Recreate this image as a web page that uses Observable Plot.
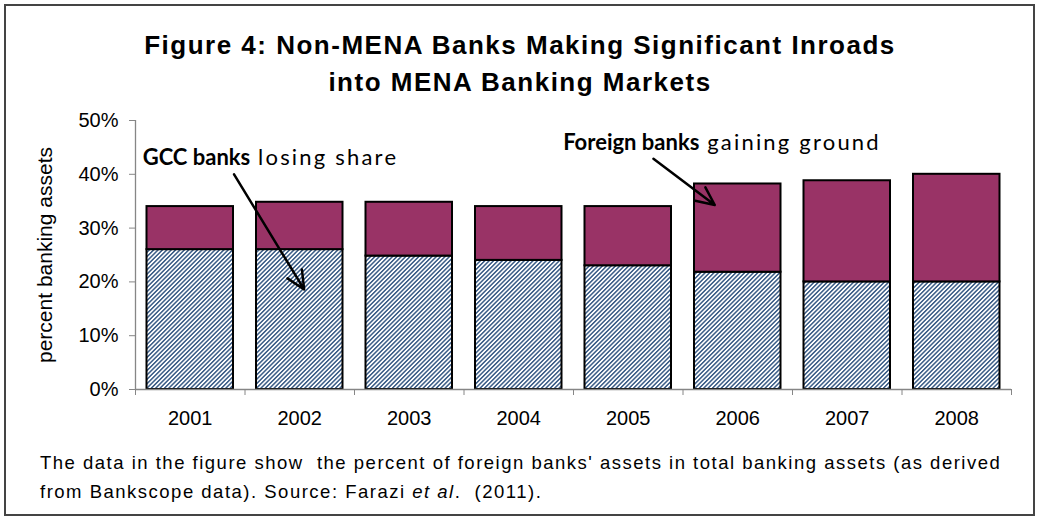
<!DOCTYPE html>
<html>
<head>
<meta charset="utf-8">
<script src="https://cdn.jsdelivr.net/npm/d3@7"></script>
<script src="https://cdn.jsdelivr.net/npm/@observablehq/plot@0.6"></script>
<style>
  html, body { margin: 0; padding: 0; background: #fff; }
  #frame { position: relative; width: 1040px; height: 520px; overflow: hidden; font-family: "Liberation Sans", Arial, sans-serif; }
  #border { position: absolute; left: 4px; top: 4px; width: 1027px; height: 508px; border: 2px solid #444; }
  #title { position: absolute; left: 0; top: 27px; width: 1040px; text-align: center; font-size: 26px; font-weight: bold; line-height: 37px; letter-spacing: 1.5px; color: #000; }
  #chart { position: absolute; left: 0; top: 100px; }
  #caption { position: absolute; left: 40px; top: 448px; font-size: 18.5px; line-height: 29px; letter-spacing: 1.5px; color: #000; white-space: nowrap; }
</style>
</head>
<body>
<div id="frame">
  <div id="border"></div>
  <div id="title">Figure 4: Non-MENA Banks Making Significant Inroads<br>into MENA Banking Markets</div>
  <div id="chart"></div>
  <div id="caption">The data in the figure show&nbsp; the percent of foreign banks' assets in total banking assets (as derived<br>from Bankscope data). Source: Farazi <i>et al</i>.&nbsp; (2011).</div>
</div>
<script>
// ---- data (percent of total banking assets) ----
const years = [2001, 2002, 2003, 2004, 2005, 2006, 2007, 2008];
const gccShare = [26, 26, 24.8, 24, 23, 21.8, 20, 20];
const foreignShare = [8, 8.8, 10, 10, 11, 16.4, 18.8, 20];
const yTicks = [0, 10, 20, 30, 40, 50];
const bandEdges = [2000.5, 2001.5, 2002.5, 2003.5, 2004.5, 2005.5, 2006.5, 2007.5, 2008.5];

// annotations (data coordinates)
const annoText = [
  {x: 2000.57, y: 43.1, bold: "GCC banks", rest: " losing share"},
  {x: 2004.41, y: 45.9, bold: "Foreign banks", rest: " gaining ground"}
];
const annoArrows = [
  {x1: 2001.40, y1: 40.0, x2: 2002.04, y2: 18.6},
  {x1: 2005.23, y1: 42.9, x2: 2005.79, y2: 34.3}
];

const rows = years.map((year, i) => ({
  year, gcc: gccShare[i], foreign: foreignShare[i], total: gccShare[i] + foreignShare[i]
}));

const FONT = "Liberation Sans, Arial, sans-serif";

const plot = Plot.plot({
  width: 1040,
  height: 340,
  marginTop: 20,
  marginBottom: 51,
  marginLeft: 135,
  marginRight: 29,
  style: {fontFamily: FONT, fontSize: "20px", color: "#000", background: "transparent"},
  x: {domain: [2000.5, 2008.5]},
  y: {domain: [0, 50]},
  marks: [
    // bars
    Plot.rectY(rows, {
      x1: d => d.year - 0.5, x2: d => d.year + 0.5, y1: 0, y2: "gcc",
      insetLeft: 11.5, insetRight: 11.5,
      fill: "url(#hatch)", stroke: "#000", strokeWidth: 2
    }),
    Plot.rectY(rows, {
      x1: d => d.year - 0.5, x2: d => d.year + 0.5, y1: "gcc", y2: "total",
      insetLeft: 11.5, insetRight: 11.5,
      fill: "#993366", stroke: "#000", strokeWidth: 2
    }),
    // axes
    Plot.ruleX([2000.5], {y1: 0, y2: 50, stroke: "#868686", strokeWidth: 1.3}),
    Plot.ruleY([0], {stroke: "#868686", strokeWidth: 1.3}),
    Plot.axisY({
      ticks: yTicks, tickFormat: d => d + "%", tickSize: 6, tickPadding: 11,
      stroke: "#868686", fontSize: 20,
      label: null
    }),
    Plot.axisY({
      ticks: [], tickSize: 0, fontSize: 21,
      label: "percent banking assets", labelAnchor: "center", labelArrow: "none", labelOffset: 98
    }),
    Plot.axisX({ticks: bandEdges, tickFormat: () => "", tickSize: 6, stroke: "#868686", label: null}),
    Plot.axisX({ticks: years, tickFormat: d => String(d), tickSize: 0, tickPadding: 21, fontSize: 20, label: null}),
    // annotations
    Plot.arrow(annoArrows, {
      x1: "x1", y1: "y1", x2: "x2", y2: "y2",
      stroke: "#000", strokeWidth: 2.5, headLength: 12, headAngle: 50
    })
  ]
});

// hatch pattern definition
const svg = d3.select(plot);
const defs = svg.insert("defs", ":first-child");
const P = 3.1;
const pat = defs.append("pattern")
  .attr("id", "hatch")
  .attr("patternUnits", "userSpaceOnUse")
  .attr("width", P).attr("height", P)
  .attr("patternTransform", "rotate(45)");
pat.append("rect").attr("width", P).attr("height", P).attr("fill", "#ffffff");
pat.append("rect").attr("x", 0).attr("y", 0).attr("width", 1.5).attr("height", P).attr("fill", "#3a5c86");

// annotation text with mixed bold / regular runs, placed via plot scales
const sx = plot.scale("x"), sy = plot.scale("y");
const t = svg.append("g")
  .attr("font-family", "Lato, 'Open Sans', sans-serif")
  .attr("font-size", 22)
  .attr("text-anchor", "start")
  .selectAll("text").data(annoText).join("text")
  .attr("x", d => sx.apply(d.x))
  .attr("y", d => sy.apply(d.y))
  .attr("dy", "0.35em");
t.append("tspan").attr("font-weight", "bold").text(d => d.bold);
t.append("tspan").attr("letter-spacing", "2.2px").text(d => d.rest);

document.getElementById("chart").appendChild(plot);
</script>
</body>
</html>
